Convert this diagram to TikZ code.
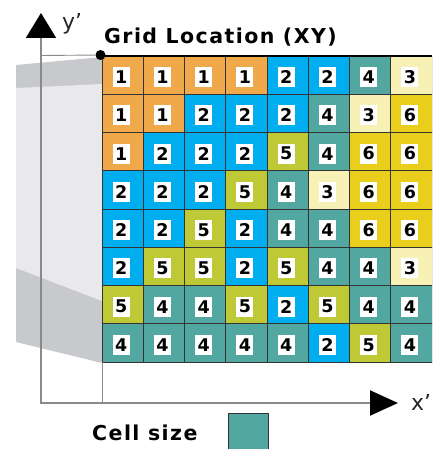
\documentclass[tikz,border=0pt]{standalone}
\usepackage{fontspec}
\setmainfont{DejaVu Sans}
\newfontfamily\labfont[LetterSpace=7]{DejaVu Sans}
\usetikzlibrary{arrows.meta}
\definecolor{c1}{HTML}{EFA94A}
\definecolor{c2}{HTML}{00AEEF}
\definecolor{c3}{HTML}{F8F1B6}
\definecolor{c4}{HTML}{52A8A0}
\definecolor{c5}{HTML}{BFC936}
\definecolor{c6}{HTML}{E9CE1B}
\definecolor{projdark}{HTML}{C8C9CC}
\definecolor{projlight}{HTML}{E9E9EB}
\definecolor{axisgray}{HTML}{8A8A8A}
\begin{document}
\begin{tikzpicture}[x=1pt,y=-1pt,
  cell/.style={draw=black!80, line width=0.9pt, minimum width=41.25pt, minimum height=38.25pt,
    inner sep=0pt, outer sep=0pt, anchor=north west},
  num/.style={fill=white, inner sep=0pt, minimum width=17pt, minimum height=20pt,
    font=\bfseries\fontsize{17.5}{17.5}\selectfont},
  bold label/.style={inner sep=0pt, font=\labfont\bfseries\fontsize{20.5}{20.5}\selectfont},
  axis label/.style={inner sep=0pt, text=black!85, font=\fontsize{22}{22}\selectfont},
  axisline/.style={draw=axisgray, line width=2pt},
  thinline/.style={draw=axisgray, line width=0.9pt}]
\useasboundingbox (0,0) rectangle (432,449);
\clip (0,0) rectangle (432,449);
% projection
\fill[projdark] (16,65) -- (102,57) -- (102,363) -- (16,342) -- cycle;
\fill[projlight] (16,88) -- (102,84) -- (102,301) -- (16,268) -- cycle;
% coordinates
\coordinate (O) at (41,403);
\coordinate (ytip) at (41,13);
\coordinate (xtip) at (398,403);
\coordinate (ytop) at (41,55.5);
\coordinate (gridfoot) at (102,403);
% axes
\draw[axisline, {Triangle[length=25pt,width=30pt,color=black]}-{Triangle[length=28pt,width=25pt,color=black]}]
  (ytip) -- (O) -- (xtip);
% grid
\foreach \row [count=\r from 0] in {{1,1,1,1,2,2,4,3},{1,1,2,2,2,4,3,6},{1,2,2,2,5,4,6,6},{2,2,2,5,4,3,6,6},{2,2,5,2,4,4,6,6},{2,5,5,2,5,4,4,3},{5,4,4,5,2,5,4,4},{4,4,4,4,4,2,5,4}} {
  \foreach \v [count=\c from 0] in \row {
    \node[cell, fill=c\v] (cell-\r-\c) at ({102+41.25*\c},{56+38.25*\r}) {};
    \node[num] (n-\r-\c) at ([xshift=-1.5pt,yshift=-2pt]cell-\r-\c.center) {\v};
  }
}
\draw[black, line width=1.2pt] (cell-0-0.north west) -- (cell-0-7.north east);
\draw[thinline] (cell-7-0.south west) -- (gridfoot);
% dot and its leader
\node[circle, fill=black, minimum size=10pt, inner sep=0pt] (dot) at (100.5,55) {};
\draw[thinline] (ytop) -- (dot);
% labels
\node[bold label, anchor=base west] (title) at (104,44) {Grid Location (XY)};
\node[axis label, anchor=base west] (ylab) at (62,30) {y\char"0027};
\node[axis label, anchor=base west] (xlab) at (411,410) {x\char"0027};
\node[bold label, anchor=base west] (cs) at (92,440) {Cell size};
\node[draw=black!80, line width=1.2pt, fill=c4, minimum width=40pt, minimum height=40pt,
  inner sep=0pt, anchor=north west] (cellbox) at (228,413) {};
\end{tikzpicture}
\end{document}
